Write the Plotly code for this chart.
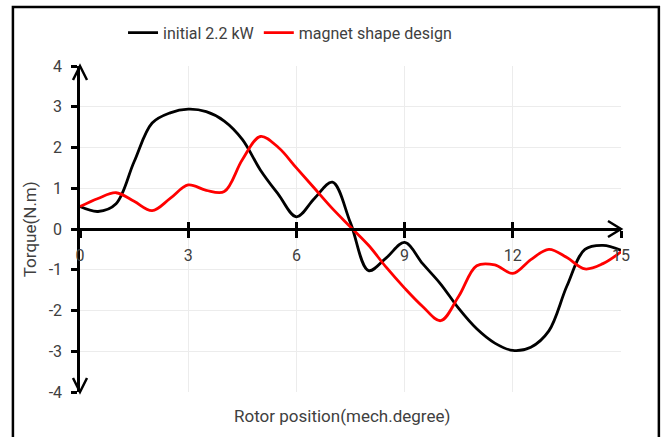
import plotly.graph_objects as go

# rotor position in mech. degrees, 0.5 deg step
position = [0, 0.5, 1, 1.5, 2, 2.5, 3, 3.5, 4, 4.5, 5, 5.5, 6, 6.5, 7, 7.5,
            8, 8.5, 9, 9.5, 10, 10.5, 11, 11.5, 12, 12.5, 13, 13.5, 14, 14.5, 15]

torque_initial = [0.55, 0.43, 0.62, 1.65, 2.6, 2.85, 2.94, 2.88, 2.65, 2.2, 1.45,
                  0.85, 0.30, 0.75, 1.15, 0.15, -1.02, -0.7, -0.33, -0.85, -1.35,
                  -1.95, -2.45, -2.8, -2.98, -2.9, -2.5, -1.4, -0.5, -0.4, -0.52]

torque_magnet = [0.55, 0.75, 0.89, 0.68, 0.45, 0.75, 1.08, 0.95, 0.92, 1.7, 2.27,
                 2.0, 1.5, 1.0, 0.5, 0.05, -0.4, -0.95, -1.45, -1.9, -2.25,
                 -1.65, -0.9, -0.88, -1.09, -0.75, -0.5, -0.7, -0.98, -0.85, -0.56]

x_ticks = [0, 3, 6, 9, 12, 15]
y_ticks = [-4, -3, -2, -1, 0, 1, 2, 3, 4]
y_tick_labels = ['-4', '-3', '-2', '-1', '0', '1', '2', '3', '4']

FONT = "Liberation Sans Narrow, Roboto, Arial, sans-serif"
TXT = "#404040"

fig = go.Figure()

fig.add_trace(go.Scatter(x=position, y=torque_initial, name='initial 2.2 kW',
                         mode='lines', line=dict(color='#000000', width=2.8,
                                                 shape='spline', smoothing=1)))
fig.add_trace(go.Scatter(x=position, y=torque_magnet, name='magnet shape design',
                         mode='lines', line=dict(color='#ff0000', width=2.8,
                                                 shape='spline', smoothing=1)))

# second x-axis only to give the cross-style ticks on the y=0 axis line
fig.add_trace(go.Scatter(x=[0, 15], y=[0, 0], xaxis='x2', mode='lines',
                         line=dict(width=0), hoverinfo='skip', showlegend=False))

fig.update_layout(
    width=665, height=437,
    margin=dict(l=80, r=44, t=66, b=45, autoexpand=False),
    plot_bgcolor='white', paper_bgcolor='white',
    font=dict(family=FONT, size=16, color=TXT),
    showlegend=True,
    legend=dict(orientation='h', xref='container', yref='container',
                x=0.185, y=0.925, xanchor='left', yanchor='middle',
                font=dict(size=16, color=TXT), itemwidth=30,
                bgcolor='rgba(0,0,0,0)'),
    xaxis=dict(range=[0, 15], tickvals=x_ticks, showgrid=True,
               gridcolor='#ececec', gridwidth=1, zeroline=False,
               anchor='free', position=0.5, showline=True, linecolor='black',
               linewidth=2.5, ticks='outside', ticklen=7, tickwidth=2.5,
               tickcolor='black', ticklabelstandoff=4, automargin=False,
               tickfont=dict(size=16, color=TXT)),
    xaxis2=dict(range=[0, 15], tickvals=x_ticks, overlaying='x',
                anchor='free', position=0.5, showgrid=False, zeroline=False,
                showline=False, ticks='inside', ticklen=7, tickwidth=2.5,
                tickcolor='black', showticklabels=False, automargin=False),
    yaxis=dict(range=[-4, 4], tickvals=y_ticks, ticktext=y_tick_labels,
               showgrid=True, gridcolor='#ececec', gridwidth=1, zeroline=False,
               showline=True, linecolor='black', linewidth=2.5,
               ticks='outside', ticklen=6, tickwidth=2.5, tickcolor='black',
               ticklabelstandoff=6, automargin=False,
               tickfont=dict(size=16, color=TXT)),
)

# axis titles
fig.add_annotation(text='Rotor position(mech.degree)', xref='paper', yref='paper',
                   x=0.485, y=-0.038, xanchor='center', yanchor='top',
                   showarrow=False, font=dict(size=17, color=TXT))
fig.add_annotation(text='Torque(N.m)', xref='paper', yref='paper',
                   x=-0.092, y=0.5, xanchor='center', yanchor='middle',
                   textangle=-90, showarrow=False, font=dict(size=17, color=TXT))

# arrow heads on the axes (paper refs so they are not clipped)
arrow = dict(type='path', xref='paper', yref='paper',
             xsizemode='pixel', ysizemode='pixel',
             line=dict(color='black', width=2.5))
fig.add_shape(xanchor=1, yanchor=0.5, path='M-13,8 L0,0 L-13,-8', **arrow)
fig.add_shape(xanchor=0, yanchor=1, path='M-7,-14 L0,0 L7,-14', **arrow)
fig.add_shape(xanchor=0, yanchor=0, path='M-7,14 L0,0 L7,14', **arrow)

# chart border
fig.add_shape(type='rect', xref='paper', yref='paper',
              x0=-0.124, x1=1.07, y0=-0.16, y1=1.181,
              line=dict(color='black', width=2.5), layer='below')

fig.write_html("out.html", config={'displayModeBar': False},
               post_script="document.body.style.margin='0';")
